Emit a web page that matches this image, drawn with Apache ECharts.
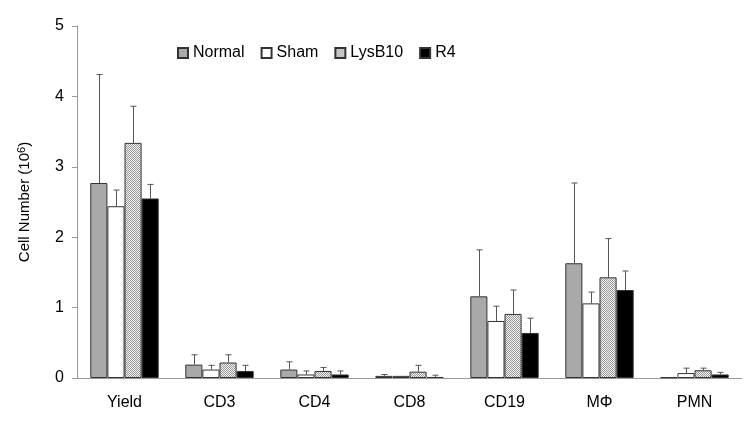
<!DOCTYPE html>
<html><head><meta charset="utf-8">
<script src="https://cdn.jsdelivr.net/npm/echarts@6/dist/echarts.min.js"></script>
<style>html,body{margin:0;padding:0;background:#fff}#c{width:749px;height:428px}</style>
</head><body><div id="c"></div>
<script>
var categories = ['Yield','CD3','CD4','CD8','CD19','MΦ','PMN'];
var seriesNames = ['Normal','Sham','LysB10','R4'];
var normal    = [2.77, 0.19, 0.12, 0.03, 1.16, 1.63, 0.01];
var normalErr = [1.54, 0.14, 0.11, 0.02, 0.66, 1.14, 0.00];
var sham      = [2.44, 0.12, 0.05, 0.03, 0.81, 1.06, 0.07];
var shamErr   = [0.23, 0.06, 0.05, 0.01, 0.21, 0.16, 0.07];
var lys       = [3.34, 0.22, 0.10, 0.09, 0.91, 1.43, 0.11];
var lysErr    = [0.52, 0.11, 0.05, 0.09, 0.34, 0.55, 0.03];
var r4        = [2.55, 0.10, 0.05, 0.015, 0.64, 1.25, 0.05];
var r4Err     = [0.20, 0.08, 0.05, 0.025, 0.21, 0.27, 0.03];
var yTicks = [0,1,2,3,4,5];

var means = [normal, sham, lys, r4];
var errs = [normalErr, shamErr, lysErr, r4Err];
var GAP = 0.28;
var FONT = 'Liberation Sans, Arial, sans-serif';

// dotted pattern for LysB10
var pc = document.createElement('canvas'); pc.width = 2; pc.height = 2;
var pctx = pc.getContext('2d');
pctx.fillStyle = '#f2f2f2'; pctx.fillRect(0,0,2,2);
pctx.fillStyle = '#9a9a9a'; pctx.fillRect(0,0,1,1); pctx.fillRect(1,1,1,1);

var fills = ['#a9a9a9', '#ffffff', {image: pc, repeat: 'repeat'}, '#000000'];

var series = [];
seriesNames.forEach(function(n, si){
  series.push({
    name: n, type: 'bar', data: means[si],
    barGap: '0%', barCategoryGap: (GAP*100)+'%',
    itemStyle: {color: fills[si], borderColor: '#333', borderWidth: 1},
    z: 2
  });
});
seriesNames.forEach(function(n, si){
  series.push({
    name: n + '_err', type: 'custom', z: 3,
    data: means[si].map(function(v, i){ return [i, v, v + errs[si][i]]; }),
    encode: {x: 0, y: 2},
    renderItem: function(params, api){
      var cat = api.value(0), v = api.value(1), t = api.value(2);
      var band = api.size([1, 0])[0];
      var total = band * (1 - GAP), bw = total / 4;
      var c = api.coord([cat, v]);
      var x = Math.round(c[0] - total / 2 + (si + 0.5) * bw) + 0.5;
      var y0 = c[1], y1 = api.coord([cat, t])[1];
      if (y0 - y1 < 1) return null;
      var st = {stroke: '#555', lineWidth: 1};
      return {type: 'group', children: [
        {type: 'line', shape: {x1: x, y1: y0, x2: x, y2: y1}, style: st},
        {type: 'line', shape: {x1: x - 3, y1: y1, x2: x + 3, y2: y1}, style: st}
      ]};
    }
  });
});

var chart = echarts.init(document.getElementById('c'));
chart.setOption({
  animation: false,
  grid: {left: 77, right: 7, top: 26, bottom: 50, containLabel: false},
  legend: {
    data: seriesNames, left: 172, top: 40, itemWidth: 10, itemHeight: 10, itemGap: 16,
    icon: 'rect',
    textStyle: {fontFamily: FONT, fontSize: 16, color: '#000'}
  },
  xAxis: {
    type: 'category', data: categories,
    axisLine: {lineStyle: {color: '#999'}},
    axisTick: {length: 5, lineStyle: {color: '#999'}},
    axisLabel: {fontFamily: FONT, fontSize: 16, color: '#000', margin: 17}
  },
  yAxis: {
    type: 'value', min: 0, max: 5, interval: 1,
    name: 'Cell Number (10{sup|6})', nameLocation: 'middle', nameGap: 44, nameRotate: 90,
    nameTextStyle: {fontFamily: FONT, fontSize: 15, color: '#000',
      rich: {sup: {fontFamily: FONT, fontSize: 11, color: '#000', verticalAlign: 'top', padding: [0,0,6,0]}}},
    axisLine: {show: true, lineStyle: {color: '#999'}},
    axisTick: {show: true, length: 5, lineStyle: {color: '#999'}},
    splitLine: {show: false},
    axisLabel: {fontFamily: FONT, fontSize: 16, color: '#000', margin: 13,
      formatter: function(v){ return yTicks.indexOf(v) >= 0 ? String(v) : ''; }}
  },
  series: series
});
</script></body></html>
